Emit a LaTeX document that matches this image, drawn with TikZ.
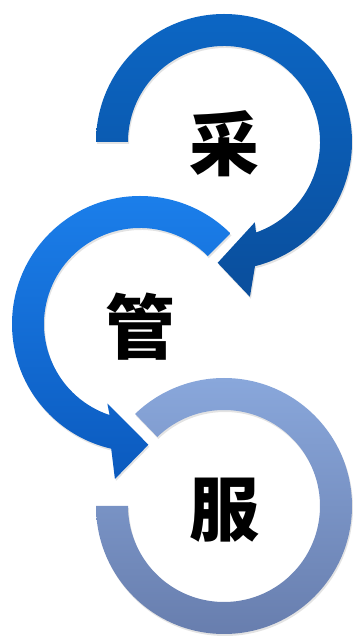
\documentclass[tikz,border=0pt]{standalone}
\usepackage{fontspec}
\newfontfamily\cjk{Noto Sans CJK SC}
\usetikzlibrary{positioning,shadows}

\definecolor{azulArriba}{RGB}{12,102,196}
\definecolor{azulArribaB}{RGB}{10,78,156}
\definecolor{azulMedio}{RGB}{28,128,236}
\definecolor{azulMedioB}{RGB}{11,90,190}
\definecolor{azulClaro}{RGB}{137,167,219}
\definecolor{azulClaroB}{RGB}{104,126,174}

\begin{document}
\begin{tikzpicture}[x=1pt,y=1pt,
  letra/.style={font=\cjk\bfseries\fontsize{70}{70}\selectfont, inner sep=0pt},
  sombra/.style={drop shadow={opacity=0.22,shadow xshift=1pt,shadow yshift=-2pt}}]

\useasboundingbox (0,0) rectangle (353,643);

% Anillo de abajo (servicio)
\shade[top color=azulClaro, bottom color=azulClaroB, sombra, shift={(224,137)}]
  (180:128) arc[start angle=180, end angle=494, radius=128]
  -- (494:96) arc[start angle=494, end angle=180, radius=96] -- cycle;

% Flecha del medio (gestion)
\shade[top color=azulMedio, bottom color=azulMedioB, sombra, shift={(140,319)}]
  (45:128) arc[start angle=45, end angle=257, radius=128]
  -- (260.8:157) -- (274:121) -- (247.7:86) -- (251.5:96)
  arc[start angle=251.5, end angle=45, radius=96] -- cycle;

% Flecha de arriba (compra)
\shade[top color=azulArriba, bottom color=azulArribaB, sombra, shift={(224,501)}]
  (180:128) arc[start angle=180, end angle=-76, radius=128]
  -- (-80.5:157) -- (-93:121) -- (-69:86) -- (-70.5:96)
  arc[start angle=-70.5, end angle=180, radius=96] -- cycle;

% Textos
\node[letra] (cai)  at (224,499) {采};
\node[letra] (guan) at (140,316) {管};
\node[letra] (fu)   at (224,133) {服};

\end{tikzpicture}
\end{document}
